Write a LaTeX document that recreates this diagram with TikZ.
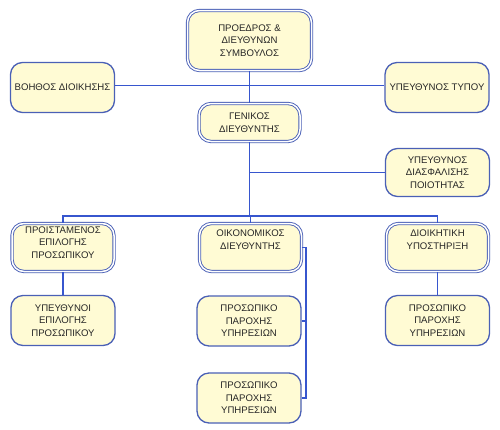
\documentclass[tikz,border=0pt]{standalone}
\usepackage{fontspec}
\setmainfont{Liberation Sans}
\usetikzlibrary{positioning}
\definecolor{boxline}{RGB}{74,96,182}
\definecolor{wireblue}{RGB}{55,86,206}
\definecolor{cream}{RGB}{255,251,212}

\begin{document}
\begin{tikzpicture}[every node/.style={on grid},
					box/.style={rectangle, rounded corners=12pt, draw=boxline, fill=cream, line width=1.3pt, align=center,
						minimum width=104pt, minimum height=50pt, inner sep=1pt, text=black!85,
						font=\fontsize{9.6}{12.6}\selectfont},
					dbox/.style={box, double=white, double distance=1.5pt, line width=0.9pt,
						minimum width=102pt, minimum height=48pt},
					raised/.style={text depth=#1},
					wire/.style={draw=wireblue, line width=1.1pt},
					node distance=73pt]
	\useasboundingbox (0pt,0pt) rectangle (500pt,-429pt);
	\fill[white] (0pt,0pt) rectangle (500pt,-429pt);

	\node[dbox, minimum width=124pt, minimum height=60pt] (pres) at (249.5pt,-40.5pt) {ΠΡΟΕΔΡΟΣ \&\\ΔΙΕΥΘΥΝΩΝ\\ΣΥΜΒΟΥΛΟΣ};
	\node[box, below left=47pt and 187pt of pres] (assist) {ΒΟΗΘΟΣ ΔΙΟΙΚΗΣΗΣ};
	\node[box, below right=47pt and 187.5pt of pres] (press) {ΥΠΕΥΘΥΝΟΣ ΤΥΠΟΥ};
	\node[dbox, minimum width=101pt, minimum height=38pt, below=82pt of pres] (gm) {ΓΕΝΙΚΟΣ\\ΔΙΕΥΘΥΝΤΗΣ};
	\node[box, minimum height=48pt, below right=50pt and 188pt of gm] (quality) {ΥΠΕΥΘΥΝΟΣ\\ΔΙΑΣΦΑΛΙΣΗΣ\\ΠΟΙΟΤΗΤΑΣ};
	\coordinate[below=93.5pt of gm] (bus);

	\node[dbox, raised=16pt, below=125pt of gm, xshift=1pt] (fin) {ΟΙΚΟΝΟΜΙΚΟΣ\\ΔΙΕΥΘΥΝΤΗΣ};
	\node[dbox, raised=10pt, left=187.5pt of fin] (hr) {ΠΡΟΙΣΤΑΜΕΝΟΣ\\ΕΠΙΛΟΓΗΣ\\ΠΡΟΣΩΠΙΚΟΥ};
	\node[dbox, raised=16pt, right=187pt of fin] (admin) {ΔΙΟΙΚΗΤΙΚΗ\\ΥΠΟΣΤΗΡΙΞΗ};

	\node[box, below=73pt of hr] (hrstaff) {ΥΠΕΥΘΥΝΟΙ\\ΕΠΙΛΟΓΗΣ\\ΠΡΟΣΩΠΙΚΟΥ};
	\node[box, below=73.5pt of fin, xshift=-1.5pt] (finstaff1) {ΠΡΟΣΩΠΙΚΟ\\ΠΑΡΟΧΗΣ\\ΥΠΗΡΕΣΙΩΝ};
	\node[box, below=77pt of finstaff1] (finstaff2) {ΠΡΟΣΩΠΙΚΟ\\ΠΑΡΟΧΗΣ\\ΥΠΗΡΕΣΙΩΝ};
	\node[box, below=73pt of admin] (adminstaff) {ΠΡΟΣΩΠΙΚΟ\\ΠΑΡΟΧΗΣ\\ΥΠΗΡΕΣΙΩΝ};
	\coordinate[right=4pt of fin.east] (brk);

	\draw[wire] (pres) -- (gm);
	\draw[wire] (assist.east |- 0,-85.5pt) -- (press.west |- 0,-85.5pt);
	\draw[wire] (quality.west) -- (quality.west -| gm.south);
	\draw[wire] (gm) -- (bus);
	\draw[wire] (hr.north) -- (hr.north |- bus) -- (admin.north |- bus) -- (admin.north);
	\draw[wire] (fin.north |- bus) -- (fin.north);
	\draw[wire] (hr) -- (hrstaff);
	\draw[wire] (admin) -- (adminstaff);
	\draw[wire] (fin.east) -- (brk) |- (finstaff2.east);
	\draw[wire] (finstaff1.east) -- (finstaff1.east -| brk);
\end{tikzpicture}
\end{document}
